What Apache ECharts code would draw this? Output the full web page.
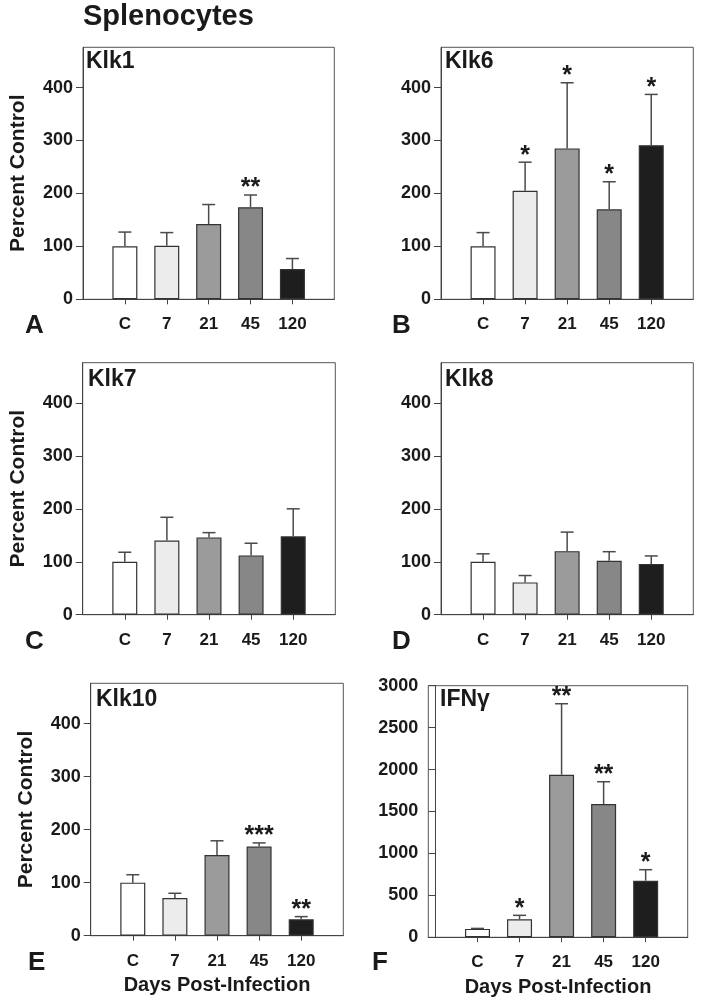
<!DOCTYPE html>
<html><head><meta charset="utf-8">
<script src="https://cdn.jsdelivr.net/npm/echarts@6/dist/echarts.min.js"></script>
<style>html,body{margin:0;padding:0;background:#fff}#c{width:702px;height:1008px}</style>
</head><body><div id="c"></div>
<script>
// ---- data ----
const categories = ['C', '7', '21', '45', '120'];
const klkTicks = [0, 100, 200, 300, 400];
const ifnTicks = [0, 500, 1000, 1500, 2000, 2500, 3000];

const klk1Mean = [100, 101, 142, 174, 57];
const klk1Sem  = [27, 25, 37, 23, 20];
const klk1Sig  = ['', '', '', '**', ''];

const klk6Mean = [100, 205, 285, 170, 291];
const klk6Sem  = [26, 54, 124, 52, 96];
const klk6Sig  = ['', '*', '*', '*', '*'];

const klk7Mean = [100, 140, 146, 112, 148];
const klk7Sem  = [18, 44, 9, 23, 52];
const klk7Sig  = ['', '', '', '', ''];

const klk8Mean = [100, 61, 120, 102, 96];
const klk8Sem  = [15, 13, 36, 17, 15];
const klk8Sig  = ['', '', '', '', ''];

const klk10Mean = [100, 71, 152, 168, 31];
const klk10Sem  = [15, 9, 27, 7, 5];
const klk10Sig  = ['', '', '', '***', '**'];

const ifnMean = [100, 215, 1939, 1589, 675];
const ifnSem  = [6, 47, 846, 266, 131];
const ifnSig  = ['', '*', '**', '**', '*'];

const mainTitle = 'Splenocytes';
const yName = 'Percent Control';
const xName = 'Days Post-Infection';

// ---- styles / layout ----
const barColors = ['#ffffff', '#ececec', '#9b9b9b', '#878787', '#1e1e1e'];
const FONT = '"Liberation Sans", Arial, Helvetica, sans-serif';
const TXT = '#1a1a1a';

const panels = [
  {name: 'Klk1', letter: 'A', mean: klk1Mean, sem: klk1Sem, sig: klk1Sig, ticks: klkTicks, yMax: 476,
   grid: {left: 83, top: 47.3, width: 251.3, height: 252}, xMin: 0, yName: true, xName: false,
   nameXY: [86, 50], letterXY: [25, 313]},
  {name: 'Klk6', letter: 'B', mean: klk6Mean, sem: klk6Sem, sig: klk6Sig, ticks: klkTicks, yMax: 476,
   grid: {left: 441, top: 47.3, width: 252.3, height: 252}, xMin: 0, yName: false, xName: false,
   nameXY: [445, 50], letterXY: [392, 313]},
  {name: 'Klk7', letter: 'C', mean: klk7Mean, sem: klk7Sem, sig: klk7Sig, ticks: klkTicks, yMax: 476,
   grid: {left: 82.7, top: 362.7, width: 252.6, height: 252}, xMin: 0, yName: true, xName: false,
   nameXY: [88, 368], letterXY: [25, 629]},
  {name: 'Klk8', letter: 'D', mean: klk8Mean, sem: klk8Sem, sig: klk8Sig, ticks: klkTicks, yMax: 476,
   grid: {left: 441, top: 362.7, width: 252.3, height: 252}, xMin: 0, yName: false, xName: false,
   nameXY: [445, 368], letterXY: [392, 629]},
  {name: 'Klk10', letter: 'E', mean: klk10Mean, sem: klk10Sem, sig: klk10Sig, ticks: klkTicks, yMax: 476,
   grid: {left: 90.7, top: 683.3, width: 252.6, height: 252.4}, xMin: 0, yName: true, xName: true,
   nameXY: [96, 688], letterXY: [28, 950]},
  {name: 'IFNγ', letter: 'F', mean: ifnMean, sem: ifnSem, sig: ifnSig, ticks: ifnTicks, yMax: 3000,
   grid: {left: 428.3, top: 685.7, width: 259.4, height: 251.6}, xMin: -0.17, yName: false, xName: true,
   nameXY: [440, 688], letterXY: [372, 950]}
];

const chart = echarts.init(document.getElementById('c'), null, {renderer: 'canvas'});

const grids = [], xAxes = [], yAxes = [], series = [], graphics = [];
const xPos = categories.map((c, i) => i + 1);

panels.forEach((p, k) => {
  grids.push(Object.assign({show: true, borderColor: '#555', borderWidth: 1, backgroundColor: '#fff'}, p.grid));
  xAxes.push({
    type: 'value', gridIndex: k, min: p.xMin, max: 6,
    axisLine: {show: true, onZero: false, lineStyle: {color: '#444', width: 1}},
    axisTick: {show: true, inside: false, length: 5, customValues: xPos, lineStyle: {color: '#444'}},
    axisLabel: {show: true, customValues: xPos, margin: 17,
      formatter: v => categories[Math.round(v) - 1] || '',
      fontFamily: FONT, fontWeight: 'bold', fontSize: 17, color: TXT},
    splitLine: {show: false},
    name: p.xName ? xName : '', nameLocation: 'middle', nameGap: 40,
    nameTextStyle: {fontFamily: FONT, fontWeight: 'bold', fontSize: 20, color: TXT}
  });
  yAxes.push({
    type: 'value', gridIndex: k, min: 0, max: p.yMax,
    axisLine: {show: true, lineStyle: {color: '#444', width: 1}},
    axisTick: {show: true, inside: false, length: 7, customValues: p.ticks, lineStyle: {color: '#444'}},
    axisLabel: {show: true, customValues: p.ticks, margin: 10, formatter: v => String(v),
      fontFamily: FONT, fontWeight: 'bold', fontSize: 18, color: TXT},
    splitLine: {show: false},
    name: p.yName ? yName : '', nameLocation: 'middle', nameGap: 54, nameRotate: 90,
    nameTextStyle: {fontFamily: FONT, fontWeight: 'bold', fontSize: 21, color: TXT}
  });
  series.push({
    type: 'bar', xAxisIndex: k, yAxisIndex: k, barWidth: 25, z: 2,
    data: p.mean.map((v, i) => ({
      value: [xPos[i], v],
      itemStyle: {color: barColors[i], borderColor: '#333', borderWidth: 1.2}
    })),
    animation: false
  });
  const sig = p.sig;
  series.push({
    type: 'custom', xAxisIndex: k, yAxisIndex: k, z: 3, clip: false,
    data: p.mean.map((v, i) => [xPos[i], v, v + p.sem[i]]),
    renderItem: (params, api) => {
      const x = api.value(0), m = api.value(1), t = api.value(2);
      const p0 = api.coord([x, m]), p1 = api.coord([x, t]);
      const ch = [
        {type: 'line', shape: {x1: p0[0], y1: p0[1], x2: p1[0], y2: p1[1]}, style: {stroke: '#4a4a4a', lineWidth: 1.5}},
        {type: 'line', shape: {x1: p1[0] - 6.5, y1: p1[1], x2: p1[0] + 6.5, y2: p1[1]}, style: {stroke: '#4a4a4a', lineWidth: 1.5}}
      ];
      const s = sig[params.dataIndex];
      if (s) ch.push({type: 'text', x: p1[0], y: p1[1] - 6.5,
        style: {text: s, fontFamily: FONT, fontWeight: 'bold', fontSize: 25, fill: TXT, align: 'center', verticalAlign: 'middle'}});
      return {type: 'group', children: ch};
    },
    animation: false
  });
  graphics.push({type: 'text', left: p.nameXY[0], top: p.nameXY[1], z: 10,
    style: {text: p.name, fontFamily: FONT, fontWeight: 'bold', fontSize: 23, fill: TXT}});
  graphics.push({type: 'text', left: p.letterXY[0], top: p.letterXY[1], z: 10,
    style: {text: p.letter, fontFamily: FONT, fontWeight: 'bold', fontSize: 26, fill: TXT}});
});

graphics.push({type: 'text', left: 83, top: 2, z: 10,
  style: {text: mainTitle, fontFamily: FONT, fontWeight: 'bold', fontSize: 29, fill: TXT}});

chart.setOption({
  animation: false,
  backgroundColor: '#fff',
  grid: grids, xAxis: xAxes, yAxis: yAxes, series: series, graphic: graphics
});
</script></body></html>
